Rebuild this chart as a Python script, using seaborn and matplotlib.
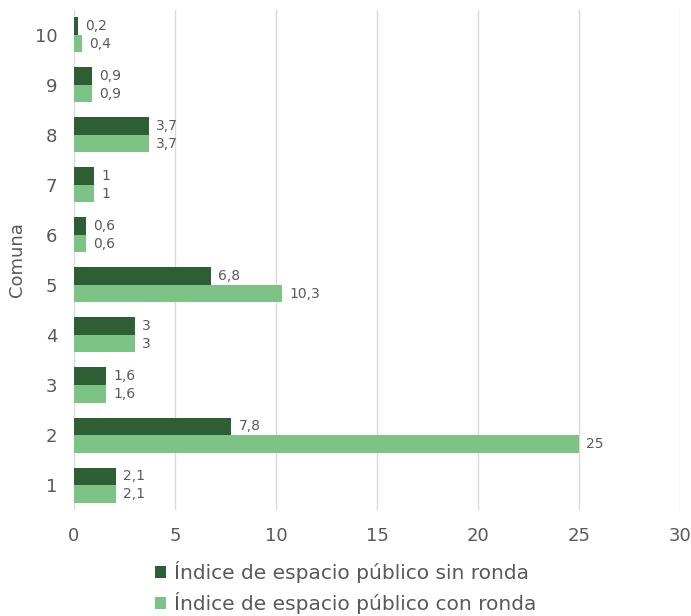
import matplotlib
matplotlib.use('Agg')
from matplotlib import pyplot as plt
import seaborn as sns
import pandas as pd

# data
comunas = ['10', '9', '8', '7', '6', '5', '4', '3', '2', '1']
sin_ronda = [0.2, 0.9, 3.7, 1, 0.6, 6.8, 3, 1.6, 7.8, 2.1]
con_ronda = [0.4, 0.9, 3.7, 1, 0.6, 10.3, 3, 1.6, 25, 2.1]
serie_sin = 'Índice de espacio público sin ronda'
serie_con = 'Índice de espacio público con ronda'
x_ticks = [0, 5, 10, 15, 20, 25, 30]

data = pd.DataFrame({
    'Comuna': comunas * 2,
    'valor': sin_ronda + con_ronda,
    'serie': [serie_sin] * len(comunas) + [serie_con] * len(comunas),
})

sns.set_theme(style='white')
plt.rcParams['font.family'] = ['DejaVu Sans']
gray = '#595959'

fig = plt.figure(figsize=(6.91, 6.16), dpi=100)
ax = fig.add_axes([0.107, 0.172, 0.877, 0.812])

sns.barplot(data=data, x='valor', y='Comuna', hue='serie', order=comunas,
            hue_order=[serie_sin, serie_con],
            palette=['#2e5e34', '#7dc386'], width=0.7, orient='h',
            saturation=1, linewidth=0, ax=ax, legend=True)

for cont in ax.containers:
    labels = [('%g' % b.get_width()).replace('.', ',') for b in cont]
    ax.bar_label(cont, labels=labels, padding=5, fontsize=10, color=gray)

ax.set_xlim(0, 30)
ax.set_xticks(x_ticks)
ax.xaxis.grid(True, color='#d9d9d9', lw=1)
ax.set_axisbelow(True)
for s in ax.spines.values():
    s.set_visible(False)
ax.tick_params(axis='x', labelsize=13, labelcolor=gray, length=0, pad=12)
ax.tick_params(axis='y', labelsize=13, labelcolor=gray, length=0, pad=12)
ax.set_xlabel('')
ax.set_ylabel('Comuna', fontsize=13, color=gray, labelpad=6)

handles, lbls = ax.get_legend_handles_labels()
ax.get_legend().remove()
fig.legend(handles, lbls, loc='upper center', bbox_to_anchor=(0.5, 0.102),
           ncol=1, frameon=False, fontsize=14.5, labelcolor=gray,
           handlelength=0.55, handleheight=0.55, handletextpad=0.4,
           labelspacing=0.45, borderaxespad=0)

plt.savefig('out.png', dpi=100)
